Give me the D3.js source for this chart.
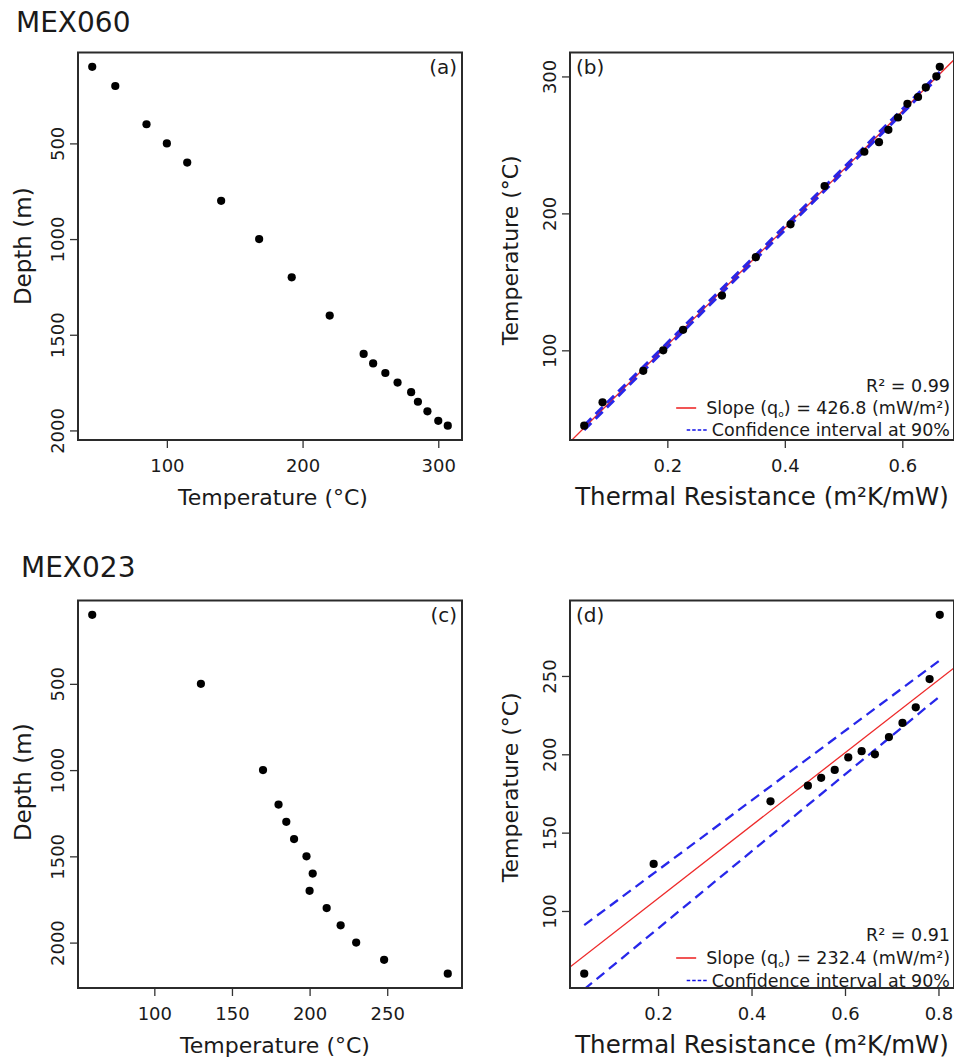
<!DOCTYPE html>
<html>
<head>
<meta charset="utf-8">
<script src="https://cdn.jsdelivr.net/npm/d3@7"></script>
<style>
  html, body { margin: 0; padding: 0; background: #fff; }
  svg { display: block; font-family: "DejaVu Sans", Verdana, sans-serif; }
</style>
</head>
<body>
<svg id="chart" width="954" height="1058"></svg>
<script>
// ---------------- DATA ----------------
// Well MEX060
const mex060Temp   = [45, 62, 85, 100, 115, 140, 168, 192, 220, 245, 252, 261, 270, 280, 285, 292, 300, 307];
const mex060Depth  = [100, 200, 400, 500, 600, 800, 1000, 1200, 1400, 1600, 1650, 1700, 1750, 1800, 1850, 1900, 1950, 1975];
const mex060Resist = [0.0585, 0.0897, 0.159, 0.193, 0.2268, 0.293, 0.3506, 0.4097, 0.4677, 0.5354, 0.5603, 0.5763, 0.5927, 0.6087, 0.6268, 0.640, 0.658, 0.6638];
// Well MEX023
const mex023Temp   = [60, 130, 170, 180, 185, 190, 198, 202, 200, 211, 220, 230, 248, 289];
const mex023Depth  = [100, 500, 1000, 1200, 1300, 1400, 1500, 1600, 1700, 1800, 1900, 2000, 2100, 2180];
const mex023Resist = [0.042, 0.1906, 0.4406, 0.5206, 0.549, 0.578, 0.607, 0.6356, 0.664, 0.694, 0.723, 0.7514, 0.781, 0.8028];

// Regression fits (intercept °C, slope mW/m²) and R²
const fitIntercept = [18.5, 61.5];
const fitSlope     = [426.8, 232.4];
const fitR2        = ["0.99", "0.91"];
// 90% confidence interval lines: [R start, T start, R end, T end]
const ciUpperB = [0.0585, 45.2, 0.6638, 303.3];
const ciLowerB = [0.0585, 41.8, 0.6638, 300.3];
const ciUpperD = [0.042, 91, 0.8028, 260];
const ciLowerD = [0.042, 50, 0.8028, 237];

// Tick labels
const tempTicksA   = [100, 200, 300];
const depthTicks   = [500, 1000, 1500, 2000];
const resistTicksB = [0.2, 0.4, 0.6];
const tempTicksB   = [100, 200, 300];
const tempTicksC   = [100, 150, 200, 250];
const resistTicksD = [0.2, 0.4, 0.6, 0.8];
const tempTicksD   = [100, 150, 200, 250];

const wellNames   = ["MEX060", "MEX023"];
const panelLabels = ["(a)", "(b)", "(c)", "(d)"];

// ---------------- LAYOUT ----------------
const svg = d3.select("#chart");
const TXT = "#1a1a1a";
const W = 384, H = 387.5;
const colX = [78, 570];
const rowY = [52.5, 600.5];

function padDomain(vals) {
  const [lo, hi] = d3.extent(vals);
  const p = (hi - lo) * 0.04;
  return [lo - p, hi + p];
}

let clipId = 0;
function panel(opt) {
  const g = svg.append("g").attr("transform", `translate(${opt.x},${opt.y})`);
  const x = d3.scaleLinear().domain(padDomain(opt.xs)).range([0, W]);
  const y = d3.scaleLinear().domain(padDomain(opt.ys)).range(opt.reverseY ? [0, H] : [H, 0]);

  const id = "clip" + (clipId++);
  g.append("clipPath").attr("id", id).append("rect").attr("width", W).attr("height", H);
  const inner = g.append("g").attr("clip-path", `url(#${id})`);

  // x axis
  const xa = g.append("g").attr("transform", `translate(0,${H})`)
    .call(d3.axisBottom(x).tickValues(opt.xTicks).tickFormat(d => String(d)).tickSize(8).tickSizeOuter(0));
  xa.select(".domain").remove();
  xa.selectAll("line").attr("stroke", "#333").attr("stroke-width", 1.3);
  xa.selectAll("text").attr("y", 32).attr("dy", 0).attr("fill", TXT)
    .style("font-size", "18px").style("font-family", "DejaVu Sans");

  // y axis
  const ya = g.append("g")
    .call(d3.axisLeft(y).tickValues(opt.yTicks).tickFormat(d => String(d)).tickSize(8).tickSizeOuter(0));
  ya.select(".domain").remove();
  ya.selectAll("line").attr("stroke", "#333").attr("stroke-width", 1.3);
  ya.selectAll("text").attr("x", 0).attr("y", 0).attr("dy", 0)
    .attr("text-anchor", "middle").attr("transform", "translate(-14,0) rotate(-90)")
    .attr("fill", TXT).style("font-size", "18px").style("font-family", "DejaVu Sans");

  // axis titles
  g.append("text").attr("x", W / 2 + (opt.xTitleDx || 0)).attr("y", H + 65)
    .attr("text-anchor", "middle").attr("fill", TXT)
    .style("font-size", opt.xTitleSize + "px").text(opt.xTitle);
  g.append("text")
    .attr("transform", `translate(${-opt.yTitleOff},${H / 2 + (opt.yTitleDy || 0)}) rotate(-90)`)
    .attr("text-anchor", "middle").attr("fill", TXT)
    .style("font-size", opt.yTitleSize + "px").text(opt.yTitle);

  return { g, inner, x, y };
}

function drawPoints(p, xs, ys) {
  p.g.append("g").selectAll("circle").data(xs.map((v, i) => [v, ys[i]])).join("circle")
    .attr("cx", d => p.x(d[0])).attr("cy", d => p.y(d[1])).attr("r", 4.1).attr("fill", "#000");
}

function drawFit(p, k) {
  const [x0, x1] = p.x.domain();
  p.inner.append("line")
    .attr("x1", p.x(x0)).attr("y1", p.y(fitIntercept[k] + fitSlope[k] * x0))
    .attr("x2", p.x(x1)).attr("y2", p.y(fitIntercept[k] + fitSlope[k] * x1))
    .attr("stroke", "#ee2a2a").attr("stroke-width", 1.3);
}

function drawCI(p, c, w) {
  p.inner.append("line")
    .attr("x1", p.x(c[0])).attr("y1", p.y(c[1]))
    .attr("x2", p.x(c[2])).attr("y2", p.y(c[3]))
    .attr("stroke", "#1010e8").attr("stroke-width", w || 2.3).attr("stroke-dasharray", "10,6")
    .attr("stroke-opacity", 0.9);
}

function panelLabel(p, txt, right) {
  p.g.append("text").attr("x", right ? W - 5 : 6).attr("y", 21)
    .attr("text-anchor", right ? "end" : "start").attr("fill", TXT)
    .style("font-size", "20px").text(txt);
}

function legend(p, k, dyBase) {
  const xEnd = W - 4;
  const fs = "17.5px";
  p.g.append("text").attr("x", xEnd).attr("y", H + dyBase[0]).attr("text-anchor", "end")
    .attr("fill", TXT).style("font-size", fs).text("R² = " + fitR2[k]);
  const t2 = p.g.append("text").attr("x", xEnd).attr("y", H + dyBase[1]).attr("text-anchor", "end")
    .attr("fill", TXT).style("font-size", fs);
  t2.append("tspan").text("Slope (q");
  t2.append("tspan").attr("dy", 3).style("font-size", "9px").text("o");
  t2.append("tspan").attr("dy", -3).text(") = " + fitSlope[k].toFixed(1) + " (mW/m²)");
  const t3 = p.g.append("text").attr("x", xEnd).attr("y", H + dyBase[2]).attr("text-anchor", "end")
    .attr("fill", TXT).style("font-size", fs).text("Confidence interval at 90%");
  const s2 = xEnd - t2.node().getComputedTextLength();
  const s3 = xEnd - t3.node().getComputedTextLength();
  p.g.append("line").attr("x1", s2 - 30).attr("x2", s2 - 10)
    .attr("y1", H + dyBase[1] - 6).attr("y2", H + dyBase[1] - 6)
    .attr("stroke", "#ee2a2a").attr("stroke-width", 1.6);
  p.g.append("line").attr("x1", s3 - 25).attr("x2", s3 - 3)
    .attr("y1", H + dyBase[2] - 6).attr("y2", H + dyBase[2] - 6)
    .attr("stroke", "#1010e8").attr("stroke-width", 1.6).attr("stroke-dasharray", "3.5,2");
}

function frame(p) {
  p.g.append("rect").attr("width", W).attr("height", H)
    .attr("fill", "none").attr("stroke", "#2b2b2b").attr("stroke-width", 2);
}

// ---------------- TITLES ----------------
svg.append("text").attr("x", 16).attr("y", 31.5).attr("fill", TXT)
  .style("font-size", "28px").text(wellNames[0]);
svg.append("text").attr("x", 21).attr("y", 576.5).attr("fill", TXT)
  .style("font-size", "28px").text(wellNames[1]);

// ---------------- PANEL (a) ----------------
const pa = panel({
  x: colX[0], y: rowY[0], xs: mex060Temp, ys: mex060Depth, reverseY: true,
  xTicks: tempTicksA, yTicks: depthTicks,
  xTitle: "Temperature (°C)", xTitleSize: 22, xTitleDx: 3,
  yTitle: "Depth (m)", yTitleSize: 23, yTitleOff: 47, yTitleDy: 0
});
drawPoints(pa, mex060Temp, mex060Depth);
panelLabel(pa, panelLabels[0], true);
frame(pa);

// ---------------- PANEL (b) ----------------
const pb = panel({
  x: colX[1], y: rowY[0], xs: mex060Resist, ys: mex060Temp, reverseY: false,
  xTicks: resistTicksB, yTicks: tempTicksB,
  xTitle: "Thermal Resistance (m²K/mW)", xTitleSize: 24.5, xTitleDx: 0,
  yTitle: "Temperature (°C)", yTitleSize: 22, yTitleOff: 52, yTitleDy: 4
});
drawFit(pb, 0);
drawCI(pb, ciUpperB, 2.8);
drawCI(pb, ciLowerB, 2.8);
drawPoints(pb, mex060Resist, mex060Temp);
panelLabel(pb, panelLabels[1], false);
legend(pb, 0, [-48, -26, -4]);
frame(pb);

// ---------------- PANEL (c) ----------------
const pc = panel({
  x: colX[0], y: rowY[1], xs: mex023Temp, ys: mex023Depth, reverseY: true,
  xTicks: tempTicksC, yTicks: depthTicks,
  xTitle: "Temperature (°C)", xTitleSize: 22, xTitleDx: 5,
  yTitle: "Depth (m)", yTitleSize: 23, yTitleOff: 47, yTitleDy: -12
});
drawPoints(pc, mex023Temp, mex023Depth);
panelLabel(pc, panelLabels[2], true);
frame(pc);

// ---------------- PANEL (d) ----------------
const pd = panel({
  x: colX[1], y: rowY[1], xs: mex023Resist, ys: mex023Temp, reverseY: false,
  xTicks: resistTicksD, yTicks: tempTicksD,
  xTitle: "Thermal Resistance (m²K/mW)", xTitleSize: 24.5, xTitleDx: 0,
  yTitle: "Temperature (°C)", yTitleSize: 22, yTitleOff: 52, yTitleDy: -7
});
drawFit(pd, 1);
drawCI(pd, ciUpperD);
drawCI(pd, ciLowerD);
drawPoints(pd, mex023Resist, mex023Temp);
panelLabel(pd, panelLabels[3], false);
legend(pd, 1, [-47, -24, -1.5]);
frame(pd);
</script>
</body>
</html>
